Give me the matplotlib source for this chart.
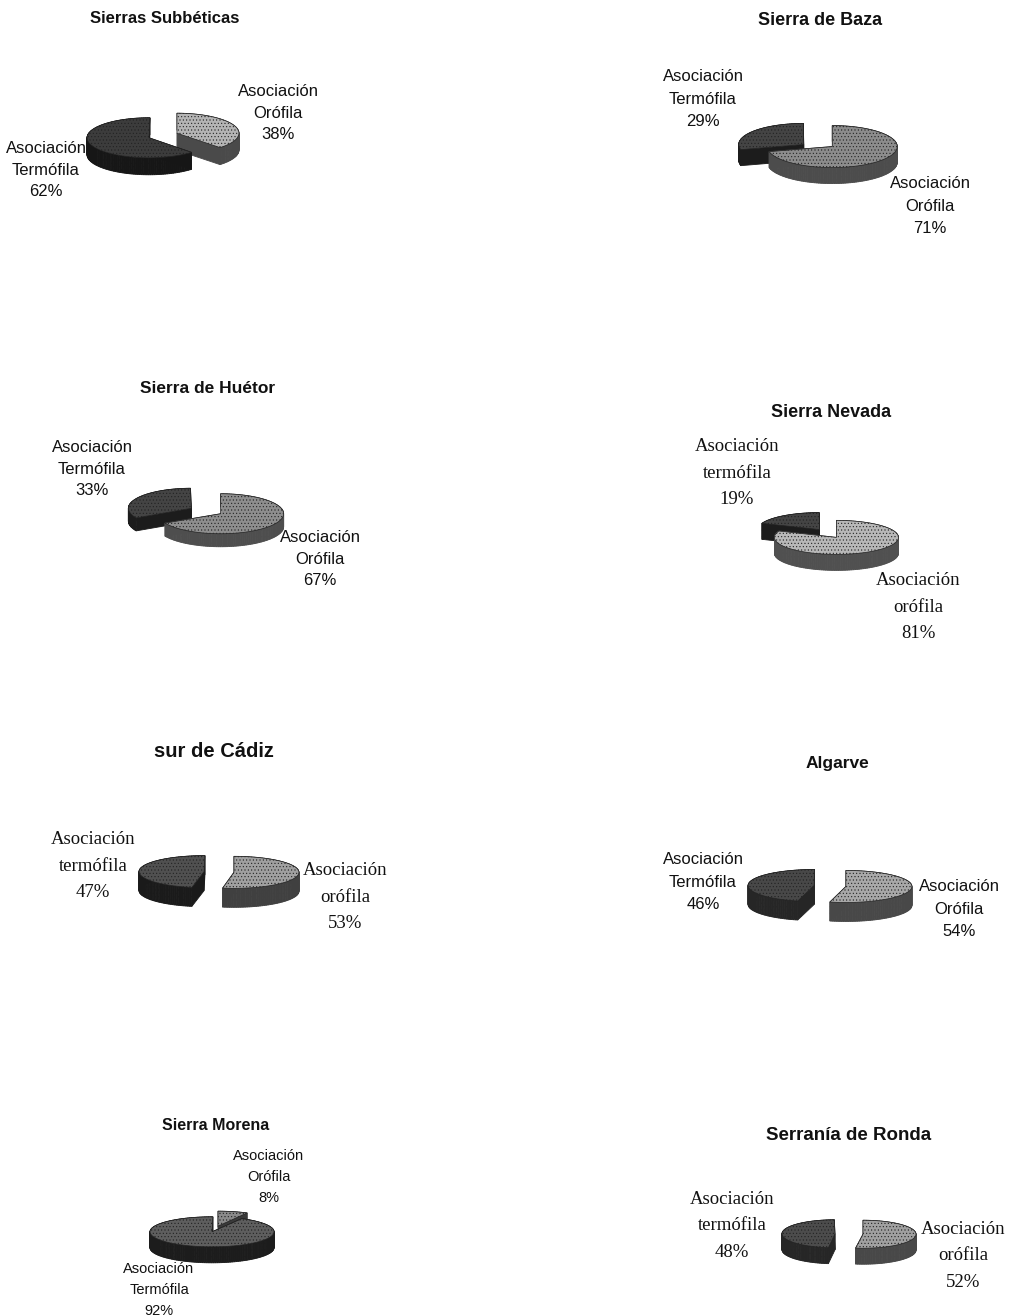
import numpy as np
import matplotlib
matplotlib.use('Agg')
import matplotlib.pyplot as plt
from matplotlib.patches import Polygon

# data
titles = ['Sierras Subbéticas', 'Sierra de Baza', 'Sierra de Huétor', 'Sierra Nevada',
          'sur de Cádiz', 'Algarve', 'Sierra Morena', 'Serranía de Ronda']
orofila = [38, 71, 67, 81, 53, 54, 8, 52]
termofila = [62, 29, 33, 19, 47, 46, 92, 48]
oro_names = ['Orófila', 'Orófila', 'Orófila', 'orófila', 'orófila', 'Orófila', 'Orófila', 'orófila']
termo_names = ['Termófila', 'Termófila', 'Termófila', 'termófila', 'termófila', 'Termófila', 'Termófila', 'termófila']

# layout, pixels of the page: cx, cy, rx, ry, depth, explode
pies = [(163, 135, 62, 20, 17, 15),
        (818, 143, 65, 21, 16, 18),
        (206, 511, 63, 20, 13, 17),
        (828, 534, 62, 17, 16, 15),
        (219, 872, 65, 16, 19, 15),
        (830, 886, 66, 16, 19, 16),
        (215, 1229, 62, 15, 16, 12),
        (849, 1234, 53, 14, 16, 14)]
termo_dy = [1, 5, 0, -1, 0, 0, 0, 0]
# top colour, side colour for each slice
oro_cols = [('#b4b4b4', '#4a4a4a'), ('#8c8c8c', '#4c4c4c'), ('#8e8e8e', '#4e4e4e'), ('#b8b8b8', '#505050'),
            ('#a0a0a0', '#404040'), ('#a8a8a8', '#484848'), ('#8a8a8a', '#3a3a3a'), ('#a0a0a0', '#484848')]
termo_cols = [('#3c3c3c', '#161616'), ('#444444', '#1c1c1c'), ('#444444', '#1c1c1c'), ('#444444', '#1c1c1c'),
              ('#505050', '#1a1a1a'), ('#484848', '#262626'), ('#5e5e5e', '#1c1c1c'), ('#4c4c4c', '#262626')]

serif = 'Liberation Serif'
sans = 'Liberation Sans'
fonts = [sans, sans, sans, serif, serif, sans, sans, serif]
sizes = [12, 12, 12, 13.5, 13.5, 12, 10.5, 13.5]
spacing = [1.55, 1.6, 1.55, 1.72, 1.72, 1.6, 1.6, 1.72]
title_xy = [(165, 18), (820, 20), (208, 388), (831, 412), (214, 751), (837, 763), (216, 1126), (849, 1135)]
title_sizes = [12, 13, 12.5, 13, 14.5, 12.5, 11.5, 13.5]
oro_xy = [(278, 113), (930, 206), (320, 559), (918, 607), (345, 897), (959, 909), (269, 1177), (963, 1256)]
termo_xy = [(46, 170), (703, 99), (92, 469), (737, 473), (93, 866), (703, 882), (159, 1290), (732, 1226)]

fig = plt.figure(figsize=(10.13, 13.15), dpi=100)
ax = fig.add_axes([0, 0, 1, 1])
ax.set_xlim(0, 1013)
ax.set_ylim(1315, 0)
ax.axis('off')
plt.rcParams['hatch.linewidth'] = 0.4


def draw_slice(ax, pie, a0, a1, cols, dy=0):
    cx, cy, rx, ry, depth, ex = pie
    mid = np.radians((a0 + a1) / 2)
    ax0 = cx + ex * np.sin(mid)
    ay0 = cy - ex * np.cos(mid) * ry / rx + dy
    t = np.radians(np.arange(a0, a1 + 1.0, 2.0))
    x = np.r_[ax0, ax0 + rx * np.sin(t)]
    y = np.r_[ay0, ay0 - ry * np.cos(t)]
    # side walls, then the top face over them
    for i in range(len(x)):
        j = (i + 1) % len(x)
        quad = [(x[i], y[i]), (x[j], y[j]), (x[j], y[j] + depth), (x[i], y[i] + depth)]
        ax.add_patch(Polygon(quad, fc=cols[1], ec=cols[1], lw=0.6, hatch='.....'))
    ax.add_patch(Polygon(np.c_[x, y], fc=cols[0], ec='#222222', lw=0.5, hatch='.....'))


for i in range(len(titles)):
    split = 360.0 * orofila[i] / (orofila[i] + termofila[i])
    mid_oro = np.radians(split / 2)
    # the slice lying further back goes first
    if np.cos(mid_oro) > 0:
        draw_slice(ax, pies[i], 0, split, oro_cols[i])
        draw_slice(ax, pies[i], split, 360, termo_cols[i], termo_dy[i])
    else:
        draw_slice(ax, pies[i], split, 360, termo_cols[i], termo_dy[i])
        draw_slice(ax, pies[i], 0, split, oro_cols[i])

    ax.text(*title_xy[i], titles[i], family=sans, fontweight='bold',
            fontsize=title_sizes[i], ha='center', va='center', color='#111111')
    oro_txt = 'Asociación\n%s\n%d%%' % (oro_names[i], orofila[i])
    termo_txt = 'Asociación\n%s\n%d%%' % (termo_names[i], termofila[i])
    for xy, txt in ((oro_xy[i], oro_txt), (termo_xy[i], termo_txt)):
        ax.text(*xy, txt, family=fonts[i], fontsize=sizes[i], ha='center', va='center',
                multialignment='center', linespacing=spacing[i], color='#111111')

fig.savefig('out.png', dpi=100)
